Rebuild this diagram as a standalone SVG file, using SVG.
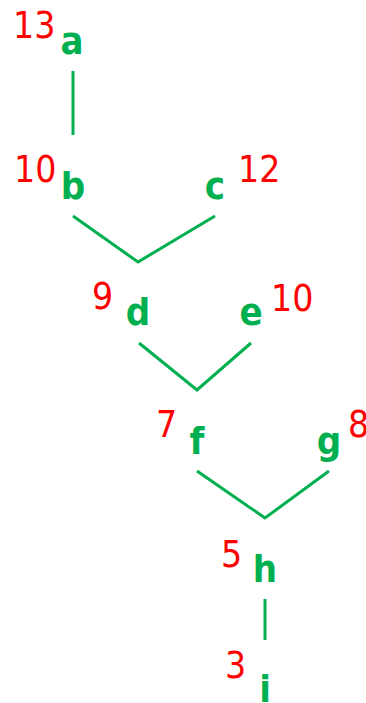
<svg xmlns="http://www.w3.org/2000/svg" width="366" height="703" viewBox="0 0 366 703">
<style>
.n{font-family:"DejaVu Sans Condensed","DejaVu Sans",sans-serif;font-weight:bold;font-size:38px;fill:#00B050;text-anchor:middle}
.v{font-family:"DejaVu Sans Condensed","DejaVu Sans",sans-serif;font-size:37px;fill:#FF0000}
.e{stroke:#00B050;stroke-width:3;fill:none}
</style>
<rect width="366" height="703" fill="#fff"/>
<g id="edges">
<line class="e" x1="73" y1="71" x2="73" y2="135"/>
<polyline class="e" points="73,216 138,262 215,216"/>
<polyline class="e" points="139,343 197,390 251,343"/>
<polyline class="e" points="197,471 265,518 329,471"/>
<line class="e" x1="265" y1="599" x2="265" y2="640"/>
</g>
<g id="node-a"><text class="n" x="72" y="54">a</text><text class="v" x="13" y="38">13</text></g>
<g id="node-b"><text class="n" x="73" y="199">b</text><text class="v" x="14" y="182">10</text></g>
<g id="node-c"><text class="n" x="215" y="199">c</text><text class="v" x="238" y="182">12</text></g>
<g id="node-d"><text class="n" x="138" y="325">d</text><text class="v" x="92" y="309">9</text></g>
<g id="node-e"><text class="n" x="251" y="325">e</text><text class="v" x="271" y="311">10</text></g>
<g id="node-f"><text class="n" x="197" y="454">f</text><text class="v" x="156" y="437">7</text></g>
<g id="node-g"><text class="n" x="329" y="454">g</text><text class="v" x="348" y="437">8</text></g>
<g id="node-h"><text class="n" x="265" y="582">h</text><text class="v" x="221" y="567">5</text></g>
<g id="node-i"><text class="n" x="265" y="702">i</text><text class="v" x="225" y="678">3</text></g>
</svg>
